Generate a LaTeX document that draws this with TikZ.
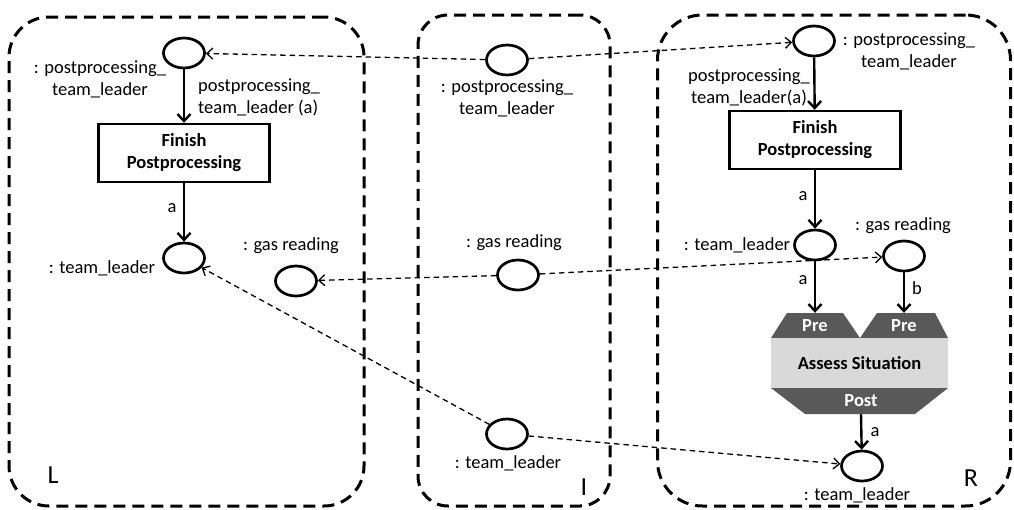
\documentclass[tikz,border=0pt]{standalone}
\usepackage{fontspec}
\setmainfont{Carlito}
\usetikzlibrary{shapes.geometric,arrows.meta}
\definecolor{darkg}{HTML}{595959}
\definecolor{lightg}{HTML}{D9D9D9}
\begin{document}
\begin{tikzpicture}[x=1pt,y=-1pt,
  font=\fontsize{18.5}{22}\selectfont,
  place/.style={draw, ellipse, line width=2.7pt, minimum width=41pt, minimum height=30pt, inner sep=0pt},
  trans/.style={draw, rectangle, line width=2.4pt, minimum width=171pt, minimum height=58pt, align=center, font=\fontsize{18.5}{22}\selectfont\bfseries},
  lbl/.style={inner sep=0pt, align=center},
  arc/.style={line width=2.4pt, -{Straight Barb[length=7pt,width=13pt]}},
  map/.style={line width=1.3pt, dash pattern=on 5.5pt off 4pt, -{Straight Barb[length=6pt,width=11pt]}},
  region/.style={draw, line width=3pt, dash pattern=on 12pt off 7pt, inner sep=0pt},
  big/.style={inner sep=0pt, font=\fontsize{26}{30}\selectfont},
  dark/.style={text=white, inner sep=0pt, font=\fontsize{18.5}{22}\selectfont\bfseries}]
\useasboundingbox (0,0) rectangle (1014,509);

% regions
\node[region, rounded corners=40pt, minimum width=355pt, minimum height=489pt] (regL) at (186.5,261.5) {};
\node[region, rounded corners=30pt, minimum width=192pt, minimum height=491pt] (regI) at (514,260.5) {};
\node[region, rounded corners=45pt, minimum width=353pt, minimum height=491pt] (regR) at (834,260.5) {};

% L
\node[place] (ppL) at (184,53) {};
\node[trans] (finL) at (184,153) {Finish\\Postprocessing};
\node[place] (tlL) at (184,258) {};
\node[place] (gasL) at (296,281) {};
\node[lbl] (ppLlab) at (100,79) {: postprocessing\_\\team\_leader};
\node[lbl, align=left, anchor=west] (arcL1) at (198,97) {postprocessing\_\\team\_leader (a)};
\node[lbl] (arcL2) at (172,208) {a};
\node[lbl] (tlLlab) at (102,268) {: team\_leader};
\node[lbl] (gasLlab) at (291,246) {: gas reading};
\node[big] (Llab) at (53,475) {L};
\draw[arc] (ppL) -- (finL);
\draw[arc] (finL) -- (tlL);

% I
\node[place] (ppI) at (507,60) {};
\node[lbl] (ppIlab) at (507,98) {: postprocessing\_\\team\_leader};
\node[place] (gasI) at (518,275) {};
\node[lbl] (gasIlab) at (514,243) {: gas reading};
\node[place] (tlI) at (507,434) {};
\node[lbl] (tlIlab) at (508,463) {: team\_leader};
\node[big] (Ilab) at (584,487) {I};

% R
\node[place] (ppR) at (814,41) {};
\node[lbl] (ppRlab) at (909,51) {: postprocessing\_\\team\_leader};
\node[lbl] (arcR1) at (749,87) {postprocessing\_\\team\_leader(a)};
\node[trans] (finR) at (815,140) {Finish\\Postprocessing};
\node[lbl] (arcR2) at (803,196) {a};
\node[place] (tlR) at (815,245) {};
\node[lbl] (tlRlab) at (737,245) {: team\_leader};
\node[place] (gasR) at (904,256) {};
\node[lbl] (gasRlab) at (903,226) {: gas reading};

% Assess Situation
\fill[darkg] (787,313) -- (843,313) -- (860,338) -- (771,338) -- cycle;
\fill[darkg] (877,313) -- (935,313) -- (948,338) -- (860,338) -- cycle;
\node[fill=lightg, minimum width=177pt, minimum height=50pt, inner sep=0pt, font=\fontsize{18.5}{22}\selectfont\bfseries] (assess) at (859.5,363) {Assess Situation};
\fill[darkg] (771,388) -- (948,388) -- (915,414) -- (805,414) -- cycle;
\node[dark, minimum height=25pt] (pre1) at (815,325.5) {Pre};
\node[dark, minimum height=25pt] (pre2) at (904,325.5) {Pre};
\node[dark, minimum height=26pt] (post) at (861,401) {Post};

\node[place] (tlR2) at (862,466) {};
\node[lbl] (tlR2lab) at (857,495) {: team\_leader};
\node[big] (Rlab) at (971,478) {R};

\draw[arc] (ppR) -- (finR);
\draw[arc] (finR) -- (tlR);
\draw[arc] (tlR) -- (pre1.north);
\node[lbl] (arcR3) at (803,280) {a};
\draw[arc] (gasR) -- (pre2.north);
\node[lbl] (arcR4) at (917,288) {b};
\draw[arc] (post.south) -- (tlR2);
\node[lbl] (arcR5) at (875,432) {a};

% mappings
\draw[map] (ppI) -- (ppL);
\draw[map] (ppI) -- (ppR);
\draw[map] (gasI) -- (gasL);
\draw[map] (gasI) -- (gasR);
\draw[map] (tlI) -- (tlL);
\draw[map] (tlI) -- (tlR2);
\end{tikzpicture}
\end{document}
